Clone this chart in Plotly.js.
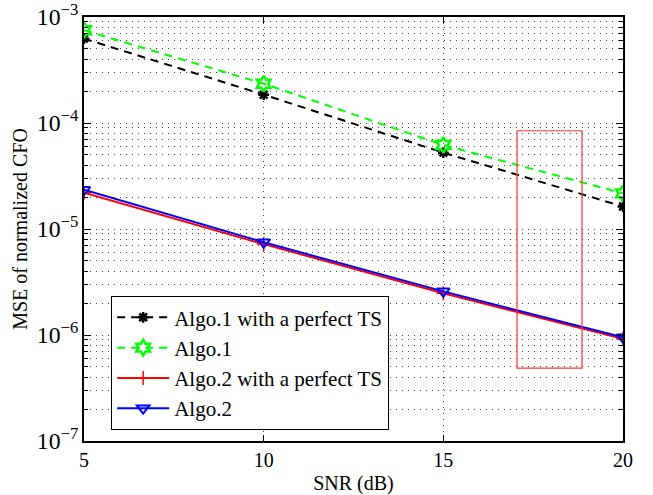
<!DOCTYPE html>
<html><head><meta charset="utf-8">
<script src="https://cdn.plot.ly/plotly-3.0.1.min.js"></script>
<style>html,body{margin:0;padding:0;background:#fff}#c{width:653px;height:495px}</style>
</head><body><div id="c"></div>
<script>
const snr = [5, 10, 15, 20];
const algo1Perfect = [6.25e-4, 1.85e-4, 5.25e-5, 1.63e-5];
const algo1 = [7.5e-4, 2.35e-4, 6.2e-5, 2.17e-5];
const algo2Perfect = [2.2e-5, 7.2e-6, 2.48e-6, 9.2e-7];
const algo2 = [2.35e-5, 7.5e-6, 2.58e-6, 9.5e-7];
const names = ['Algo.1 with a perfect TS', 'Algo.1', 'Algo.2 with a perfect TS', 'Algo.2'];
const xTickVals = [5, 10, 15, 20];
// highlighted region (data units)
const boxX = [17.05, 18.86];
const boxY = [4.86e-7, 8.45e-5];

const fam = 'Liberation Serif';
const f = (s) => ({family: fam, size: s, color: '#000'});
const gridDash = '1px,5px';
const traces = [
  {x: snr, y: algo1Perfect, name: names[0], mode: 'lines+markers',
   line: {color: '#000', width: 2, dash: '8px,6px'},
   marker: {symbol: 'asterisk-open', size: 9, line: {color: '#000', width: 2.5}}},
  {x: snr, y: algo1, name: names[1], mode: 'lines+markers',
   line: {color: '#00ff00', width: 2, dash: '8px,6px'},
   marker: {symbol: 'hexagram-open', size: 12, color: '#00ff00', line: {color: '#00ff00', width: 2.5}}},
  {x: snr, y: algo2Perfect, name: names[2], mode: 'lines+markers',
   line: {color: '#ff0000', width: 2},
   marker: {symbol: 'cross-thin-open', size: 10, line: {color: '#ff0000', width: 1.5}}},
  {x: snr, y: algo2, name: names[3], mode: 'lines+markers',
   line: {color: '#0000ff', width: 2},
   marker: {symbol: 'triangle-down-open', size: 11, color: '#0000ff', line: {color: '#0000ff', width: 2}}}
];
const layout = {
  width: 653, height: 495,
  margin: {l: 84, r: 30, t: 17, b: 54},
  paper_bgcolor: '#fff', plot_bgcolor: '#fff',
  font: f(20),
  showlegend: true,
  legend: {x: 0.05, y: 0.026, xanchor: 'left', yanchor: 'bottom',
    bgcolor: '#fff', bordercolor: '#000', borderwidth: 1.2,
    itemwidth: 52, font: f(21)},
  xaxis: {
    range: [5, 20], tickmode: 'array', tickvals: xTickVals,
    ticks: 'inside', ticklen: 6, tickcolor: '#000', tickwidth: 1,
    showline: true, linecolor: '#000', linewidth: 2, mirror: 'ticks',
    showgrid: true, gridcolor: '#444', griddash: gridDash, gridwidth: 1,
    zeroline: false, ticklabeloverflow: 'allow',
    title: {text: 'SNR (dB)', font: f(20), standoff: 6},
    tickfont: f(20)
  },
  yaxis: {
    type: 'log', range: [-7, -3], tickmode: 'linear', tick0: 0, dtick: 1,
    exponentformat: 'power', showexponent: 'all', ticklabeloverflow: 'allow',
    ticks: 'inside', ticklen: 7, tickcolor: '#000', tickwidth: 1,
    showline: true, linecolor: '#000', linewidth: 2, mirror: 'ticks',
    showgrid: true, gridcolor: '#444', griddash: gridDash, gridwidth: 1,
    minor: {dtick: 'D1', ticks: 'inside', ticklen: 4, tickcolor: '#000', showgrid: true,
            gridcolor: '#444', griddash: gridDash, gridwidth: 1},
    zeroline: false,
    title: {text: 'MSE of normalized CFO', font: f(20), standoff: 4},
    tickfont: f(19)
  },
  shapes: [{type: 'rect', xref: 'x', yref: 'y',
    x0: boxX[0], x1: boxX[1], y0: boxY[0], y1: boxY[1],
    line: {color: '#ff3333', width: 1.2}}]
};
Plotly.newPlot('c', traces, layout, {displayModeBar: false, staticPlot: true});
</script></body></html>
